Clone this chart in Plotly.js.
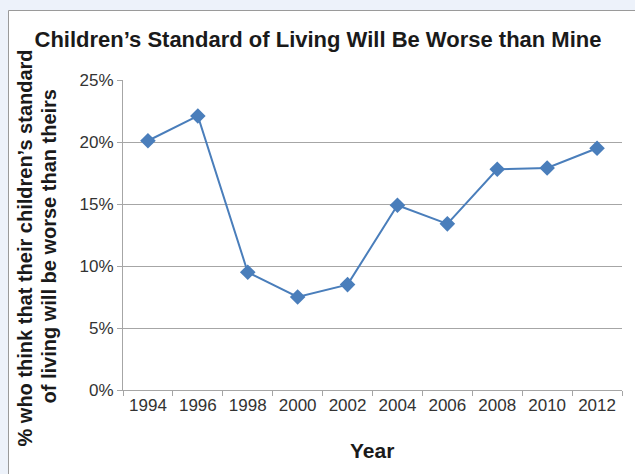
<!DOCTYPE html>
<html>
<head>
<meta charset="utf-8">
<script src="https://cdn.plot.ly/plotly-3.0.1.min.js"></script>
<style>
html, body { margin: 0; padding: 0; background: #edf2fa; }
#chart { width: 635px; height: 474px; }
</style>
</head>
<body>
<div id="chart"></div>
<script>
const years = ["1994", "1996", "1998", "2000", "2002", "2004", "2006", "2008", "2010", "2012"];
const pctWorse = [20.1, 22.1, 9.5, 7.5, 8.5, 14.9, 13.4, 17.8, 17.9, 19.5];
const yTickVals = [0, 5, 10, 15, 20, 25];
const yTickText = ["0%", "5%", "10%", "15%", "20%", "25%"];

const chartTitle = "Children\u2019s Standard of Living Will Be Worse than Mine";
const yTitleLine1 = "% who think that their children\u2019s standard";
const yTitleLine2 = "of living will be worse than theirs";
const xTitle = "Year";

const L = 123, R = 13, T = 80, B = 84, W = 635, H = 474;
const pw = W - L - R, ph = H - T - B;
const px = v => (v - L) / pw;
const py = v => (H - B - v) / ph;

const blue = "#4a7ebb";
const grid = "#a6a6a6";
const font = "Liberation Sans, Arial, Helvetica, sans-serif";

const data = [{
  type: "scatter",
  mode: "lines+markers",
  x: years,
  y: pctWorse,
  line: { color: blue, width: 2 },
  marker: { symbol: "diamond", size: 12, color: blue },
  hoverinfo: "x+y"
}];

const layout = {
  width: W, height: H,
  margin: { l: L, r: R, t: T, b: B, pad: 0 },
  paper_bgcolor: "#edf2fa",
  plot_bgcolor: "#ffffff",
  showlegend: false,
  font: { family: font, color: "#404040", size: 17 },
  title: {
    text: "<b>" + chartTitle + "</b>",
    font: { family: font, size: 22, color: "#1a1a1a" },
    x: px(318), xref: "paper", xanchor: "center",
    y: 1 - 39 / H, yref: "container", yanchor: "middle"
  },
  xaxis: {
    type: "category",
    tickson: "boundaries",
    ticks: "outside", ticklen: 5, tickcolor: grid, tickwidth: 1,
    showline: true, linecolor: grid, linewidth: 1,
    showgrid: false, zeroline: false,
    tickfont: { family: font, size: 17, color: "#333333" },
    range: [-0.5, 9.5],
    fixedrange: true
  },
  yaxis: {
    range: [0, 25],
    tickmode: "array",
    tickvals: yTickVals,
    ticktext: yTickText,
    ticks: "outside", ticklen: 5, tickcolor: grid, tickwidth: 1,
    showline: true, linecolor: grid, linewidth: 1,
    showgrid: true, gridcolor: grid, gridwidth: 1,
    zeroline: false,
    tickfont: { family: font, size: 17, color: "#333333" },
    fixedrange: true
  },
  shapes: [{
    type: "rect", xref: "paper", yref: "paper", layer: "below",
    x0: px(8.5), x1: px(W + 5), y0: py(H + 5), y1: py(10.5),
    fillcolor: "#ffffff", line: { color: "#9a9a9a", width: 1 }
  }],
  annotations: [
    {
      text: "<b>" + yTitleLine1 + "</b>",
      xref: "paper", yref: "paper",
      x: px(25), y: py(248.5), xanchor: "center", yanchor: "middle",
      textangle: -90, showarrow: false,
      font: { family: font, size: 20, color: "#1a1a1a" }
    },
    {
      text: "<b>" + yTitleLine2 + "</b>",
      xref: "paper", yref: "paper",
      x: px(48), y: py(246.5), xanchor: "center", yanchor: "middle",
      textangle: -90, showarrow: false,
      font: { family: font, size: 20, color: "#1a1a1a" }
    },
    {
      text: "<b>" + xTitle + "</b>",
      xref: "paper", yref: "paper",
      x: px(372), y: py(450), xanchor: "center", yanchor: "middle",
      showarrow: false,
      font: { family: font, size: 21, color: "#1a1a1a" }
    }
  ]
};

Plotly.newPlot("chart", data, layout, { displayModeBar: false, staticPlot: true });
</script>
</body>
</html>
